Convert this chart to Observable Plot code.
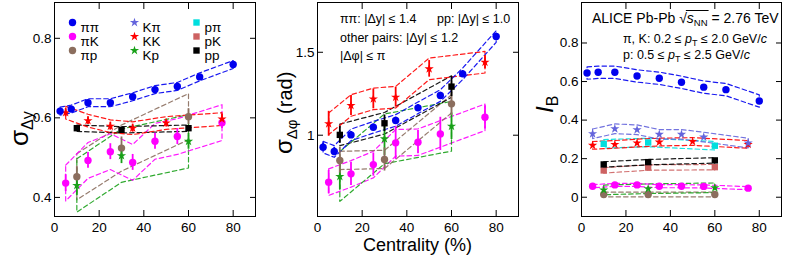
<!DOCTYPE html>
<html><head><meta charset="utf-8">
<script src="https://cdn.jsdelivr.net/npm/d3@7"></script>
<script src="https://cdn.jsdelivr.net/npm/@observablehq/plot@0.6"></script>
<style>
body{margin:0;background:#fff;}
#root{position:relative;width:789px;height:260px;overflow:hidden;}
#root svg{position:absolute;top:0;}
</style></head><body><div id="root"></div>
<script>
// ---------- centrality bins (%) ----------
const cent_pipi = [2.5, 7.5, 15, 25, 35, 45, 55, 65, 80];
const cent_piK  = [5, 15, 25, 35, 45, 55, 75];   // πK and Kπ
const cent_KK   = [5, 15, 25, 35, 50, 75];
const cent_p    = [10, 30, 60];                  // πp, Kp, pπ, pK, pp

// ---------- series identity ----------
const seriesNames   = ["ππ", "πK", "πp", "Kπ", "KK", "Kp", "pπ", "pK", "pp"];
const seriesColors  = ["#0000ee", "#ff00ff", "#8b6e5e", "#6464dc", "#ff0000", "#18a018", "#00dede", "#cd6262", "#000000"];
const seriesSymbols = ["circle", "circle", "circle", "star", "star", "star", "square", "square", "square"];

// ---------- panel 1: sigma_dy ----------
const sdy_pipi = [0.617, 0.622, 0.638, 0.638, 0.653, 0.671, 0.679, 0.703, 0.734];
const sdy_pipi_err = [0.005, 0.005, 0.005, 0.005, 0.005, 0.005, 0.005, 0.005, 0.005];
const sdy_piK = [0.436, 0.493, 0.515, 0.488, 0.541, 0.553, 0.588];
const sdy_piK_err = [0.021, 0.02, 0.02, 0.02, 0.02, 0.02, 0.015];
const sdy_pip = [0.452, 0.524, 0.603];
const sdy_pip_err = [0.025, 0.028, 0.02];
const sdy_KK = [0.613, 0.593, 0.579, 0.574, 0.587, 0.597];
const sdy_KK_err = [0.01, 0.01, 0.01, 0.01, 0.01, 0.012];
const sdy_Kp = [0.430, 0.505, 0.541];
const sdy_Kp_err = [0.025, 0.02, 0.02];
const sdy_pp = [0.574, 0.570, 0.574];
const sdy_pp_err = [0.004, 0.004, 0.004];
const sdy_sys = {"ππ": 0.010, "πK": 0.045, "πp": 0.058, "KK": 0.016, "Kp": 0.067, "pp": 0.008};

// ---------- panel 2: sigma_dphi ----------
const sdp_pipi = [0.928, 0.902, 1.002, 1.048, 1.089, 1.165, 1.239, 1.370, 1.595];
const sdp_pipi_err = [0.025, 0.025, 0.02, 0.02, 0.02, 0.02, 0.02, 0.02, 0.02];
const sdp_piK = [0.717, 0.767, 0.823, 0.954, 0.958, 1.008, 1.108];
const sdp_piK_err = [0.07, 0.07, 0.07, 0.1, 0.07, 0.1, 0.07];
const sdp_pip = [0.848, 0.854, 1.189];
const sdp_pip_err = [0.08, 0.07, 0.07];
const sdp_KK = [1.069, 1.179, 1.219, 1.229, 1.400, 1.440];
const sdp_KK_err = [0.075, 0.06, 0.06, 0.06, 0.05, 0.04];
const sdp_Kp = [0.751, 0.978, 1.054];
const sdp_Kp_err = [0.08, 0.1, 0.08];
const sdp_pp = [1.002, 1.072, 1.293];
const sdp_pp_err = [0.05, 0.05, 0.06];
const sdp_sys = {"ππ": 0.035, "πK": 0.08, "πp": 0.055, "KK": 0.065, "Kp": 0.15, "pp": 0.065};

// ---------- panel 3: I_B ----------
const ib_pipi = [0.644, 0.648, 0.648, 0.629, 0.617, 0.596, 0.571, 0.558, 0.499];
const ib_piK  = [0.057, 0.064, 0.064, 0.057, 0.057, 0.056, 0.047];
const ib_pip  = [0.014, 0.014, 0.014];
const ib_Kpi  = [0.329, 0.355, 0.350, 0.326, 0.326, 0.312, 0.281];
const ib_KK   = [0.269, 0.274, 0.281, 0.286, 0.289, 0.274];
const ib_Kp   = [0.038, 0.044, 0.049];
const ib_ppi  = [0.277, 0.284, 0.267];
const ib_pK   = [0.139, 0.154, 0.156];
const ib_pp   = [0.170, 0.182, 0.191];
const ib_sys = {"ππ": 0.032, "πK": 0.008, "πp": 0.012, "Kπ": 0.025, "KK": 0.02, "Kp": 0.025, "pπ": 0.022, "pK": 0.014, "pp": 0.014};

// ---------- tick values ----------
const xTicks = [0, 20, 40, 60, 80];
const yTicks1 = [0.4, 0.6, 0.8];
const yTicks2 = [1, 1.5];
const yTicks3 = [0, 0.2, 0.4, 0.6, 0.8];

const FONT = "'Liberation Sans', Arial, Helvetica, sans-serif";
const idx = n => seriesNames.indexOf(n);
function S(name, c, v, e, sys) {
  const i = idx(name);
  return {name, c, v, e, sys, color: seriesColors[i], symbol: seriesSymbols[i]};
}

const panel1 = [
  S("πp", cent_p, sdy_pip, sdy_pip_err, sdy_sys["πp"]),
  S("Kp", cent_p, sdy_Kp, sdy_Kp_err, sdy_sys["Kp"]),
  S("πK", cent_piK, sdy_piK, sdy_piK_err, sdy_sys["πK"]),
  S("pp", cent_p, sdy_pp, sdy_pp_err, sdy_sys["pp"]),
  S("KK", cent_KK, sdy_KK, sdy_KK_err, sdy_sys["KK"]),
  S("ππ", cent_pipi, sdy_pipi, sdy_pipi_err, sdy_sys["ππ"])
];
const panel2 = [
  S("πK", cent_piK, sdp_piK, sdp_piK_err, sdp_sys["πK"]),
  S("Kp", cent_p, sdp_Kp, sdp_Kp_err, sdp_sys["Kp"]),
  S("πp", cent_p, sdp_pip, sdp_pip_err, sdp_sys["πp"]),
  S("pp", cent_p, sdp_pp, sdp_pp_err, sdp_sys["pp"]),
  S("KK", cent_KK, sdp_KK, sdp_KK_err, sdp_sys["KK"]),
  S("ππ", cent_pipi, sdp_pipi, sdp_pipi_err, sdp_sys["ππ"])
];
const panel3 = [
  S("πp", cent_p, ib_pip, null, ib_sys["πp"]),
  S("Kp", cent_p, ib_Kp, null, ib_sys["Kp"]),
  S("πK", cent_piK, ib_piK, null, ib_sys["πK"]),
  S("pK", cent_p, ib_pK, null, ib_sys["pK"]),
  S("pp", cent_p, ib_pp, null, ib_sys["pp"]),
  S("pπ", cent_p, ib_ppi, null, ib_sys["pπ"]),
  S("KK", cent_KK, ib_KK, null, ib_sys["KK"]),
  S("Kπ", cent_piK, ib_Kpi, null, ib_sys["Kπ"]),
  S("ππ", cent_pipi, ib_pipi, null, ib_sys["ππ"])
];

function symR(sym) { return sym === "star" ? 2.9 : sym === "square" ? 3.6 : 3.7; }

function makePanel({series, yDomain, yTicks, mLeft, mRight, width, left, extra = []}) {
  const bands = [], errs = [], dots = [];
  for (const s of series) {
    const up = s.c.map((x, i) => ({x, y: s.v[i] + s.sys}));
    const lo = s.c.map((x, i) => ({x, y: s.v[i] - s.sys})).reverse();
    const poly = [...up, ...lo, up[0]];
    bands.push(Plot.line(poly, {x: "x", y: "y", stroke: s.color, strokeWidth: 1.2, strokeDasharray: "4.5,3", opacity: 0.9}));
    const rows = s.c.map((x, i) => ({x, y: s.v[i], e: s.e ? s.e[i] : 0}));
    if (s.e) errs.push(Plot.ruleX(rows, {x: "x", y1: d => d.y - d.e, y2: d => d.y + d.e, stroke: s.color, strokeWidth: 1.8}));
    dots.push(Plot.dot(rows, {x: "x", y: "y", fill: s.color, r: symR(s.symbol), symbol: s.symbol}));
  }
  const fmt = d => String(d);
  const p = Plot.plot({
    width, height: 260,
    marginLeft: mLeft, marginRight: mRight, marginTop: 2, marginBottom: 44,
    style: {fontFamily: FONT, fontSize: "13.5px", background: "transparent", color: "black"},
    x: {domain: [0, 90]},
    y: {domain: yDomain},
    marks: [
      ...bands, ...errs, ...dots, ...extra,
      Plot.axisX(xTicks, {anchor: "bottom", tickSize: 0, tickPadding: 6, stroke: "none", label: null, tickFormat: fmt}),
      Plot.axisX(xTicks, {anchor: "bottom", tickSize: -6, fill: "none", label: null}),
      Plot.axisX(xTicks, {anchor: "top", tickSize: -6, fill: "none", label: null}),
      Plot.axisY(yTicks, {anchor: "left", tickSize: 0, tickPadding: 3, stroke: "none", label: null, tickFormat: fmt}),
      Plot.axisY(yTicks, {anchor: "left", tickSize: -6, fill: "none", label: null}),
      Plot.axisY(yTicks, {anchor: "right", tickSize: -6, fill: "none", label: null}),
      Plot.frame({stroke: "black", strokeWidth: 1})
    ]
  });
  p.style.left = left + "px";
  return p;
}

// legend (panel 1), built through Plot marks anchored to the frame
const legendMarks = [];
seriesNames.forEach((n, i) => {
  const col = Math.floor(i / 3), row = i % 3;
  const dx = 18 + col * 62, dy = 20 + row * 14;
  legendMarks.push(Plot.dot([n], {frameAnchor: "top-left", dx, dy, fill: seriesColors[i], r: symR(seriesSymbols[i]), symbol: seriesSymbols[i]}));
  legendMarks.push(Plot.text([n], {frameAnchor: "top-left", dx: dx + 8, dy, text: d => d, textAnchor: "start", fontSize: 13.5, fill: "black"}));
});

const root = document.getElementById("root");
root.appendChild(makePanel({series: panel1, yDomain: [0.352, 0.89], yTicks: yTicks1, mLeft: 54, mRight: 7, width: 262, left: 0, extra: legendMarks}));
root.appendChild(makePanel({series: panel2, yDomain: [0.51, 1.8], yTicks: yTicks2, mLeft: 55, mRight: 6, width: 262, left: 262}));
root.appendChild(makePanel({series: panel3, yDomain: [-0.1, 1.01], yTicks: yTicks3, mLeft: 57, mRight: 8, width: 265, left: 524}));

// ---------- titles and annotations ----------
const ov = d3.select("#root").append("svg")
  .attr("width", 789).attr("height", 260)
  .style("left", "0px").style("pointer-events", "none")
  .attr("font-family", FONT);

// y titles
let t = ov.append("text").attr("transform", "translate(28,146) rotate(-90)").attr("font-size", 26);
t.append("tspan").text("σ");
t.append("tspan").attr("font-size", 16).attr("dy", 5).text("Δy");

t = ov.append("text").attr("transform", "translate(292,154) rotate(-90)").attr("font-size", 24);
t.append("tspan").text("σ");
t.append("tspan").attr("font-size", 15).attr("dy", 5).text("Δφ");
t.append("tspan").attr("font-size", 20).attr("dy", -5).text(" (rad)");

t = ov.append("text").attr("transform", "translate(553,113) rotate(-90)").attr("font-size", 24);
t.append("tspan").attr("font-style", "italic").text("I");
t.append("tspan").attr("font-size", 16).attr("dy", 5).text("B");

// x title
ov.append("text").attr("x", 417.5).attr("y", 251).attr("text-anchor", "middle").attr("font-size", 18).text("Centrality (%)");

// panel 2 annotations
const AF = 12.5;
ov.append("text").attr("x", 340).attr("y", 22.5).attr("font-size", AF).text("ππ: |Δy| ≤ 1.4");
ov.append("text").attr("x", 437).attr("y", 22.5).attr("font-size", AF).text("pp: |Δy| ≤ 1.0");
ov.append("text").attr("x", 340).attr("y", 41.5).attr("font-size", AF).text("other pairs: |Δy| ≤ 1.2");
ov.append("text").attr("x", 340).attr("y", 60).attr("font-size", AF).text("|Δφ| ≤ π");

// panel 3 annotations
const at = ov.append("text").attr("x", 592).attr("y", 23).attr("font-size", 14);
at.append("tspan").text("ALICE Pb-Pb ");
at.append("tspan").text("√");
at.append("tspan").attr("font-style", "italic").text("s");
at.append("tspan").attr("font-size", 9.5).attr("dy", 3).text("NN");
at.append("tspan").attr("dy", -3).text(" = 2.76 TeV");
{
  const el = at.node();
  const x0 = el.getEndPositionOfChar(12).x - 1;
  const x1 = el.getEndPositionOfChar(15).x + 1;
  ov.append("line").attr("x1", x0).attr("x2", x1).attr("y1", 10.5).attr("y2", 10.5).attr("stroke", "black").attr("stroke-width", 1);
}
function ptLine(y, prefix, hi) {
  const tt = ov.append("text").attr("x", 623).attr("y", y).attr("font-size", 12.5);
  tt.append("tspan").text(prefix);
  tt.append("tspan").attr("font-style", "italic").text("p");
  tt.append("tspan").attr("font-size", 9).attr("dy", 3).text("T");
  tt.append("tspan").attr("dy", -3).text(" ≤ " + hi + " GeV/");
  tt.append("tspan").attr("font-style", "italic").text("c");
}
ptLine(43, "π, K: 0.2 ≤ ", "2.0");
ptLine(59, "p: 0.5 ≤ ", "2.5");
</script></body></html>
